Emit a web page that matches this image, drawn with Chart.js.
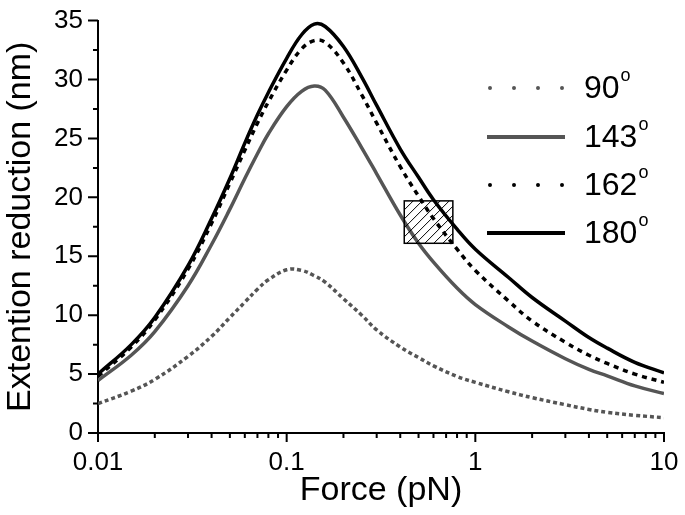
<!DOCTYPE html>
<html>
<head>
<meta charset="utf-8">
<script src="https://cdn.jsdelivr.net/npm/chart.js@4.4.1/dist/chart.umd.min.js"></script>
<style>
  html, body { margin: 0; padding: 0; background: #fff; }
  #wrap { width: 685px; height: 515px; position: relative; }
</style>
</head>
<body>
<div id="wrap"><canvas id="chart"></canvas></div>
<script>
const FONT = "'Liberation Sans', Arial, sans-serif";
const GRAY = '#555555';

// force (pN) sample points
const force = [0.01, 0.015, 0.02, 0.03, 0.04, 0.05, 0.06, 0.07, 0.08, 0.1, 0.12, 0.14, 0.16, 0.2,
  0.25, 0.3, 0.4, 0.5, 0.6, 0.8, 1, 1.5, 2, 3, 4, 5, 7, 10];

// extention reduction (nm) for each angle
const angle90 = [2.5, 3.55, 4.55, 6.5, 8.2, 9.8, 11.1, 12.2, 13.0, 13.85, 13.8, 13.35, 12.8, 11.4,
  10.0, 8.75, 7.3, 6.4, 5.7, 4.8, 4.3, 3.5, 3.0, 2.4, 2.0, 1.75, 1.5, 1.3];
const angle143 = [4.45, 6.6, 8.6, 12.5, 16.0, 19.0, 21.6, 23.7, 25.4, 27.7, 29.0, 29.45, 29.1, 26.8,
  24.2, 22.0, 18.5, 16.1, 14.5, 12.3, 10.9, 9.0, 7.8, 6.3, 5.4, 4.85, 4.0, 3.35];
const angle162 = [4.8, 7.3, 9.6, 13.9, 17.8, 21.2, 24.0, 26.3, 28.1, 30.8, 32.6, 33.3, 33.15, 31.4,
  28.7, 26.3, 22.6, 20.1, 18.2, 15.6, 13.8, 11.2, 9.5, 7.7, 6.6, 5.9, 5.0, 4.3];
const angle180 = [5.0, 7.5, 9.8, 14.2, 18.2, 21.6, 24.6, 27.0, 28.9, 31.8, 33.8, 34.7, 34.5, 32.8,
  30.2, 27.8, 24.1, 21.7, 19.8, 17.3, 15.6, 13.2, 11.5, 9.5, 8.1, 7.2, 6.0, 5.1];

const seriesLabels = ['90', '143', '162', '180'];
const xTickLabels = [0.01, 0.1, 1, 10];
const yTickValues = [0, 5, 10, 15, 20, 25, 30, 35];

// hatched marker box (data units)
const hatchBox = { fMin: 0.42, fMax: 0.76, yMin: 16.1, yMax: 19.7 };

function toPoints(values) {
  return force.map((f, i) => ({ x: f, y: values[i] }));
}

const styles = [
  { color: GRAY, dash: [4, 3], width: 3.5, legendDash: [0, 24] },
  { color: GRAY, dash: [], width: 3.5, legendDash: [] },
  { color: '#000', dash: [5, 5], width: 3.5, legendDash: [0, 24] },
  { color: '#000', dash: [], width: 3.5, legendDash: [] },
];

const datasets = [angle90, angle143, angle162, angle180].map((values, i) => ({
  label: seriesLabels[i],
  data: toPoints(values),
  borderColor: styles[i].color,
  borderDash: styles[i].dash,
  borderWidth: styles[i].width,
  pointRadius: 0,
  fill: false,
  tension: 0.4,
}));

const decorations = {
  id: 'decorations',
  afterDatasetsDraw(chart) {
    const { ctx, scales: { x, y } } = chart;
    // hatched box
    const l = x.getPixelForValue(hatchBox.fMin);
    const r = x.getPixelForValue(hatchBox.fMax);
    const t = y.getPixelForValue(hatchBox.yMax);
    const b = y.getPixelForValue(hatchBox.yMin);
    ctx.save();
    ctx.beginPath();
    ctx.rect(l, t, r - l, b - t);
    ctx.clip();
    ctx.strokeStyle = '#000';
    ctx.lineWidth = 1;
    ctx.beginPath();
    for (let s = l - (b - t); s < r; s += 9) {
      ctx.moveTo(s, b);
      ctx.lineTo(s + (b - t), t);
    }
    ctx.stroke();
    ctx.restore();
    ctx.save();
    ctx.strokeStyle = '#000';
    ctx.lineWidth = 1.5;
    ctx.strokeRect(l, t, r - l, b - t);
    ctx.restore();
  },
  afterDraw(chart) {
    const { ctx, scales: { x, y }, chartArea } = chart;
    ctx.save();
    ctx.strokeStyle = '#000';
    ctx.lineWidth = 2;
    ctx.beginPath();
    // x ticks, major at decades, minor 2..9
    xTickLabels.forEach((d, i) => {
      const px = x.getPixelForValue(d);
      ctx.moveTo(px, chartArea.bottom);
      ctx.lineTo(px, chartArea.bottom + 9);
      if (i < xTickLabels.length - 1) {
        for (let k = 2; k <= 9; k++) {
          const mx = x.getPixelForValue(k * d);
          ctx.moveTo(mx, chartArea.bottom);
          ctx.lineTo(mx, chartArea.bottom + 5);
        }
      }
    });
    // y ticks, major every 5, minor every 2.5
    yTickValues.forEach((v, i) => {
      const py = y.getPixelForValue(v);
      ctx.moveTo(chartArea.left, py);
      ctx.lineTo(chartArea.left - 10, py);
      if (i < yTickValues.length - 1) {
        const my = y.getPixelForValue(v + 2.5);
        ctx.moveTo(chartArea.left, my);
        ctx.lineTo(chartArea.left - 5, my);
      }
    });
    ctx.stroke();

    // legend
    const rowY = [88, 137, 185, 233];
    datasets.forEach((ds, i) => {
      const st = styles[i];
      ctx.beginPath();
      ctx.strokeStyle = st.color;
      ctx.lineWidth = 4;
      ctx.lineCap = st.legendDash.length ? 'round' : 'butt';
      ctx.setLineDash(st.legendDash);
      ctx.moveTo(st.legendDash.length ? 490 : 487, rowY[i]);
      ctx.lineTo(565, rowY[i]);
      ctx.stroke();
      ctx.setLineDash([]);
      ctx.fillStyle = '#000';
      ctx.textBaseline = 'middle';
      ctx.textAlign = 'left';
      ctx.font = `32px ${FONT}`;
      ctx.fillText(ds.label, 584, rowY[i] + 1);
      const w = ctx.measureText(ds.label).width;
      ctx.font = `18px ${FONT}`;
      ctx.fillText('o', 584 + w + 1, rowY[i] - 12);
    });
    ctx.restore();
  },
};

new Chart(document.getElementById('chart'), {
  type: 'line',
  data: { datasets },
  options: {
    responsive: true,
    maintainAspectRatio: false,
    animation: false,
    layout: { padding: { top: 17, right: 21, left: 0, bottom: 0 } },
    plugins: { legend: { display: false }, tooltip: { enabled: false } },
    scales: {
      x: {
        type: 'logarithmic',
        min: 0.01,
        max: 10,
        afterBuildTicks: scale => { scale.ticks = xTickLabels.map(v => ({ value: v })); },
        afterFit: scale => { scale.height = 82; },
        ticks: {
          color: '#000',
          font: { family: FONT, size: 26 },
          padding: 5,
          autoSkip: false,
          maxRotation: 0,
          callback: v => String(v),
        },
        grid: { display: true, drawOnChartArea: false, drawTicks: true, tickLength: 9, tickColor: 'rgba(0,0,0,0)' },
        border: { display: true, color: '#000', width: 2 },
        title: {
          display: true,
          text: 'Force (pN)',
          color: '#000',
          font: { family: FONT, size: 34 },
          padding: { top: 0, bottom: 4 },
        },
      },
      y: {
        min: 0,
        max: 35,
        afterBuildTicks: scale => { scale.ticks = yTickValues.map(v => ({ value: v })); },
        afterFit: scale => { scale.width = 98; },
        ticks: {
          color: '#000',
          font: { family: FONT, size: 26 },
          padding: 5,
        },
        grid: { display: true, drawOnChartArea: false, drawTicks: true, tickLength: 10, tickColor: 'rgba(0,0,0,0)' },
        border: { display: true, color: '#000', width: 2 },
        title: {
          display: true,
          text: 'Extention reduction (nm)',
          color: '#000',
          font: { family: FONT, size: 34 },
          padding: { top: 0, bottom: 0 },
        },
      },
    },
  },
  plugins: [decorations],
});
</script>
</body>
</html>
